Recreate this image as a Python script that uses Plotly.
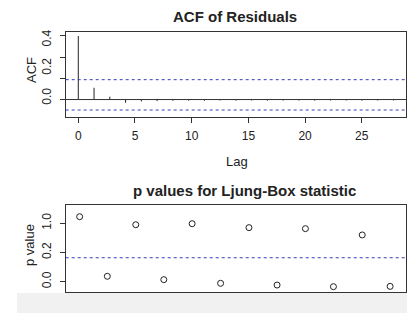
import plotly.graph_objects as go

# ---- data ----
acf_lags = [0, 1.39, 2.78, 4.17, 5.56, 6.95, 8.34, 9.73, 11.12, 12.51, 13.9,
            15.29, 16.68, 18.07, 19.46, 20.85, 22.24, 23.63, 25.02, 26.41, 27.8]
acf_values = [0.4, 0.074, 0.018, -0.02, -0.012, -0.01, -0.008, -0.007, -0.008, -0.006, -0.007,
              -0.006, -0.007, -0.006, -0.006, -0.007, -0.006, -0.006, -0.007, -0.006, -0.006]
acf_upper = 0.125
acf_lower = -0.066
acf_xticks = [0, 5, 10, 15, 20, 25]
acf_ytick_marks = [0, 0.1333, 0.2667, 0.4]
acf_ylabel_pos = [0.022, 0.211, 0.389]
acf_ylabel_text = ["0.0", "0.2", "0.4"]

lb_lags = [0.12, 2.56, 5.07, 7.54, 10.04, 12.55, 15.05, 17.53, 20.03, 22.5, 25.04, 27.5]
lb_values = [0.445, 0.037, 0.390, 0.014, 0.397, -0.011, 0.370, -0.023, 0.363, -0.034, 0.320, -0.032]
lb_threshold = 0.164
lb_ytick_vals = [0, 0.2, 0.4]
lb_ytick_text = ["0.0", "0.2", "1.0"]

FONT = "Liberation Sans, Arial, sans-serif"
INK = "#222222"
FRAME = "#333333"
BLUE = "#3c3cb4"

# spikes built from the data
seg_x, seg_y = [], []
for lag, val in zip(acf_lags, acf_values):
    seg_x += [lag, lag, None]
    seg_y += [0, val, None]

fig = go.Figure()
fig.add_trace(go.Scatter(x=seg_x, y=seg_y, mode="lines",
                         line=dict(color=INK, width=1),
                         xaxis="x", yaxis="y", showlegend=False, hoverinfo="skip"))
fig.add_trace(go.Scatter(x=lb_lags, y=lb_values, mode="markers",
                         marker=dict(symbol="circle-open", size=6, color=INK,
                                     line=dict(width=1, color=INK)),
                         xaxis="x2", yaxis="y2", showlegend=False, hoverinfo="skip"))

xdom = [65.7 / 420, 406 / 420]
common = dict(showline=True, mirror=True, linecolor=FRAME, linewidth=1,
              showgrid=False, zeroline=False)

fig.update_layout(
    width=420, height=313, autosize=False,
    margin=dict(l=0, r=0, t=0, b=0),
    paper_bgcolor="white", plot_bgcolor="white",
    font=dict(family=FONT, color=INK, size=12),
    xaxis=dict(domain=xdom, anchor="y", range=[-1.11, 28.9],
               tickvals=acf_xticks, ticks="outside", ticklen=5, tickcolor=FRAME,
               tickfont=dict(size=12, color=INK), ticklabelstandoff=3, **common),
    yaxis=dict(domain=[1 - 116.7 / 313, 1 - 31.7 / 313], anchor="x",
               range=[-0.108, 0.427], tickvals=acf_ytick_marks, showticklabels=False,
               ticks="outside", ticklen=5, tickcolor=FRAME, **common),
    xaxis2=dict(domain=xdom, anchor="y2", range=[-1.11, 28.9],
                showticklabels=False, ticks="", **common),
    yaxis2=dict(domain=[1 - 292.3 / 313, 1 - 205 / 313], anchor="x2",
                range=[-0.0726, 0.525], tickvals=lb_ytick_vals, ticktext=lb_ytick_text,
                tickangle=-90, ticks="outside", ticklen=5, tickcolor=FRAME,
                tickfont=dict(size=12, color=INK), ticklabelstandoff=4, **common),
)

shapes = [
    dict(type="line", xref="x domain", yref="y", x0=0, x1=1, y0=0, y1=0,
         line=dict(color=FRAME, width=1)),
    dict(type="line", xref="x domain", yref="y", x0=0, x1=1, y0=acf_upper, y1=acf_upper,
         line=dict(color=BLUE, width=1, dash="3px,3px")),
    dict(type="line", xref="x domain", yref="y", x0=0, x1=1, y0=acf_lower, y1=acf_lower,
         line=dict(color=BLUE, width=1, dash="3px,3px")),
    dict(type="line", xref="x2 domain", yref="y2", x0=0, x1=1, y0=lb_threshold, y1=lb_threshold,
         line=dict(color=BLUE, width=1, dash="3px,3px")),
    dict(type="rect", xref="paper", yref="paper", x0=17 / 420, x1=407 / 420,
         y0=0, y1=1 - 293 / 313, fillcolor="#f1f1f1", line=dict(width=0), layer="below"),
]
fig.update_layout(shapes=shapes)

ann = [
    dict(text="<b>ACF of Residuals</b>", x=234.5 / 420, y=1 - 16 / 313,
         font=dict(size=15)),
    dict(text="Lag", x=237.3 / 420, y=1 - 161.7 / 313, font=dict(size=13)),
    dict(text="<b>p values for Ljung-Box statistic</b>", x=244 / 420, y=1 - 190 / 313,
         font=dict(size=15)),
    dict(text="ACF", x=31 / 420, y=1 - 70 / 313, textangle=-90, font=dict(size=13)),
    dict(text="p value", x=30 / 420, y=1 - 245 / 313, textangle=-90, font=dict(size=13)),
]
annotations = []
for a in ann:
    a.update(xref="paper", yref="paper", showarrow=False, xanchor="center", yanchor="middle")
    annotations.append(a)
for pos, txt in zip(acf_ylabel_pos, acf_ylabel_text):
    annotations.append(dict(text=txt, xref="paper", yref="y", x=46.7 / 420, y=pos,
                            textangle=-90, showarrow=False, xanchor="center",
                            yanchor="middle", font=dict(size=12)))
fig.update_layout(annotations=annotations)

fig.write_html("out.html", config={"displayModeBar": False},
               post_script="document.body.style.margin='0';document.body.style.padding='0';")
